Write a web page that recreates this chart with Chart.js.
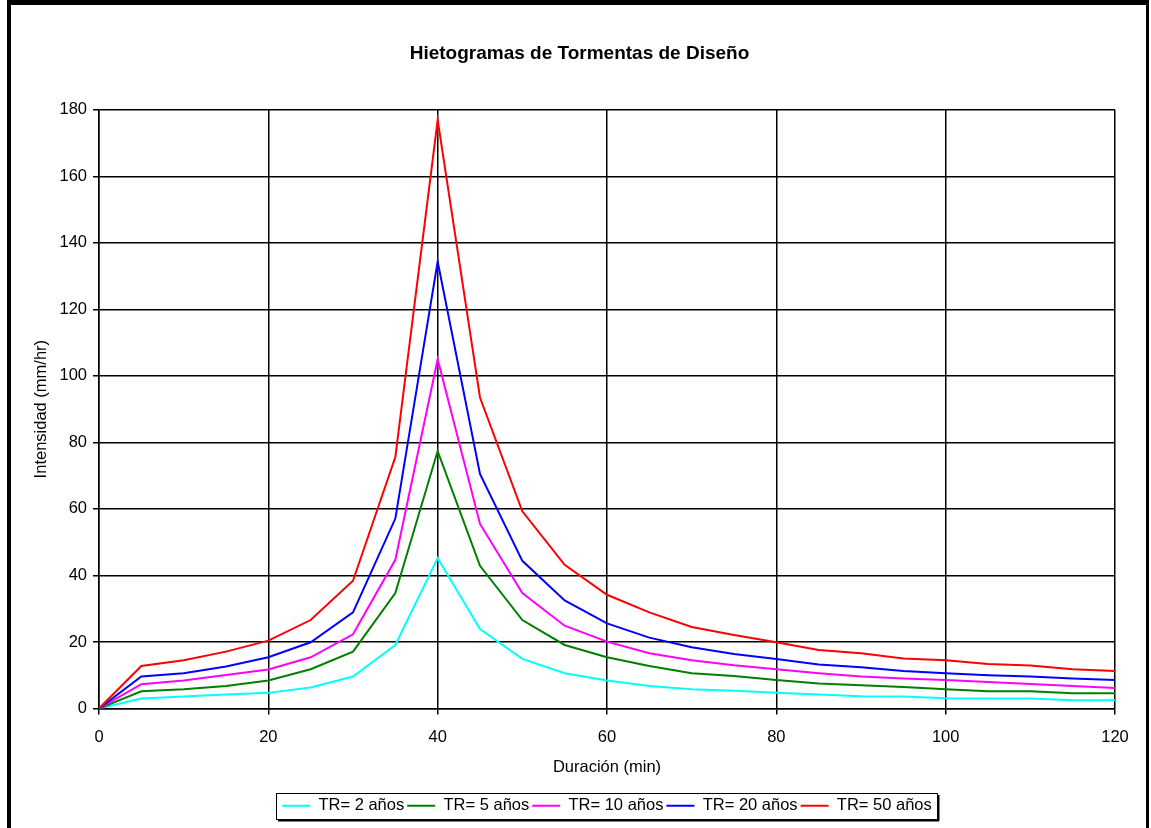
<!DOCTYPE html>
<html>
<head>
<meta charset="utf-8">
<script src="https://cdn.jsdelivr.net/npm/chart.js@4.4.0/dist/chart.umd.min.js"></script>
<style>
  html, body { margin: 0; padding: 0; background: #fff; }
  #wrap { width: 1151px; height: 828px; position: relative; }
</style>
</head>
<body>
<div id="wrap"><canvas id="c" width="1151" height="828"></canvas></div>
<script>
const chartTitle = "Hietogramas de Tormentas de Diseño";
const xTitle = "Duración (min)";
const yTitle = "Intensidad (mm/hr)";
const durations = [0, 5, 10, 15, 20, 25, 30, 35, 40, 45, 50, 55, 60, 65, 70, 75, 80, 85, 90, 95, 100, 105, 110, 115, 120];
const seriesNames = ["TR= 2 años", "TR= 5 años", "TR= 10 años", "TR= 20 años", "TR= 50 años"];
const seriesColors = ["#00FFFF", "#008000", "#FF00FF", "#0000FF", "#FF0000"];
const tr2  = [0, 3.0, 3.6, 4.2, 4.7, 6.3, 9.6, 19.1, 45.2, 23.9, 14.9, 10.6, 8.4, 6.8, 5.8, 5.3, 4.7, 4.2, 3.7, 3.6, 3.1, 3.0, 3.0, 2.5, 2.5];
const tr5  = [0, 5.2, 5.8, 6.8, 8.4, 11.8, 17.1, 34.7, 77.4, 42.9, 26.6, 19.1, 15.4, 12.8, 10.6, 9.8, 8.6, 7.5, 7.0, 6.5, 5.8, 5.2, 5.2, 4.6, 4.6];
const tr10 = [0, 7.3, 8.4, 10.1, 11.7, 15.4, 22.3, 44.7, 105.0, 55.5, 34.7, 24.9, 20.1, 16.6, 14.5, 13.0, 11.8, 10.6, 9.6, 9.0, 8.6, 8.0, 7.4, 6.8, 6.2];
const tr20 = [0, 9.6, 10.6, 12.6, 15.4, 19.9, 28.9, 57.1, 134.4, 70.5, 44.4, 32.5, 25.6, 21.3, 18.4, 16.4, 14.9, 13.2, 12.4, 11.3, 10.6, 10.0, 9.6, 9.0, 8.6];
const tr50 = [0, 12.8, 14.5, 17.1, 20.4, 26.6, 38.4, 75.6, 176.9, 93.5, 59.3, 43.2, 34.2, 28.9, 24.5, 22.1, 19.9, 17.6, 16.6, 15.0, 14.5, 13.4, 12.9, 11.8, 11.3];
const allSeries = [tr2, tr5, tr10, tr20, tr50];

const FONT = "'Liberation Sans', Arial, Helvetica, sans-serif";

const datasets = allSeries.map((vals, i) => ({
  label: seriesNames[i],
  data: vals.map((v, j) => ({ x: durations[j], y: v })),
  borderColor: seriesColors[i],
  backgroundColor: seriesColors[i],
  borderWidth: 2,
  pointRadius: 0,
  pointHoverRadius: 0,
  tension: 0,
  fill: false,
  order: allSeries.length - i
}));

const framePlugin = {
  id: 'frame',
  beforeDraw(chart) {
    const ctx = chart.ctx;
    ctx.save();
    ctx.fillStyle = '#fff';
    ctx.fillRect(0, 0, chart.width, chart.height);
    ctx.restore();
  },
  afterDraw(chart) {
    const ctx = chart.ctx;
    ctx.save();
    ctx.fillStyle = '#000';
    ctx.fillRect(7, 0, 1142, 5);   // top
    ctx.fillRect(7, 0, 4, 828);    // left
    ctx.fillRect(1146, 0, 3, 828); // right
    // legend frame
    const lg = chart.legend;
    if (lg && lg.legendHitBoxes && lg.legendHitBoxes.length) {
      const hb = lg.legendHitBoxes;
      const first = hb[0], last = hb[hb.length - 1];
      const l = Math.round(first.left - 6) + 0.5;
      const r = Math.round(last.left + last.width + 5) + 0.5;
      const t = Math.round(first.top - 5) + 0.5;
      const b = Math.round(first.top + first.height + 5) + 0.5;
      ctx.fillStyle = '#000';
      ctx.fillRect(l + 1.5, b, r - l, 2);
      ctx.fillRect(r, t + 1.5, 2, b - t);
      ctx.strokeStyle = '#000';
      ctx.lineWidth = 1;
      ctx.strokeRect(l, t, r - l, b - t);
    }
    ctx.restore();
  }
};

new Chart(document.getElementById('c'), {
  type: 'line',
  data: { datasets },
  plugins: [framePlugin],
  options: {
    responsive: false,
    animation: false,
    events: [],
    layout: { padding: { left: 8, right: 0, top: 0, bottom: 4 } },
    plugins: {
      tooltip: { enabled: false },
      title: {
        display: true,
        text: chartTitle,
        color: '#000',
        font: { family: FONT, size: 19, weight: 'bold' },
        padding: { top: 42, bottom: 45 }
      },
      legend: {
        display: true,
        position: 'bottom',
        fullSize: false,
        labels: {
          color: '#000',
          font: { family: FONT, size: 16.5 },
          usePointStyle: true,
          pointStyle: 'line',
          pointStyleWidth: 28,
          padding: 3,
          sort: (a, b) => a.datasetIndex - b.datasetIndex
        }
      }
    },
    scales: {
      x: {
        type: 'linear',
        min: 0,
        max: 120,
        position: 'bottom',
        afterFit: s => { s.height = 86; },
        ticks: { stepSize: 20, color: '#000', font: { family: FONT, size: 16.5 }, padding: 13, maxRotation: 0 },
        grid: { color: '#000', lineWidth: 1.5, tickLength: 6, tickColor: '#000', tickWidth: 1.5 },
        border: { display: true, color: '#000', width: 1.5 },
        title: { display: true, text: xTitle, color: '#000', font: { family: FONT, size: 16.5 }, padding: { top: 0, bottom: 17 } }
      },
      y: {
        type: 'linear',
        min: 0,
        max: 180,
        position: 'left',
        afterFit: s => { s.width = 91; },
        ticks: { stepSize: 20, color: '#000', font: { family: FONT, size: 16.5 }, padding: 6 },
        grid: { color: '#000', lineWidth: 1.5, tickLength: 6, tickColor: '#000', tickWidth: 1.5 },
        border: { display: true, color: '#000', width: 1.5 },
        title: { display: true, text: yTitle, color: '#000', font: { family: FONT, size: 16.5 }, padding: { top: 24, bottom: 0 } }
      },
      yRight: {
        type: 'linear',
        position: 'right',
        min: 0,
        max: 180,
        afterFit: s => { s.width = 36; },
        ticks: { display: false },
        grid: { display: false, drawTicks: false },
        border: { display: false }
      }
    }
  }
});
</script>
</body>
</html>
